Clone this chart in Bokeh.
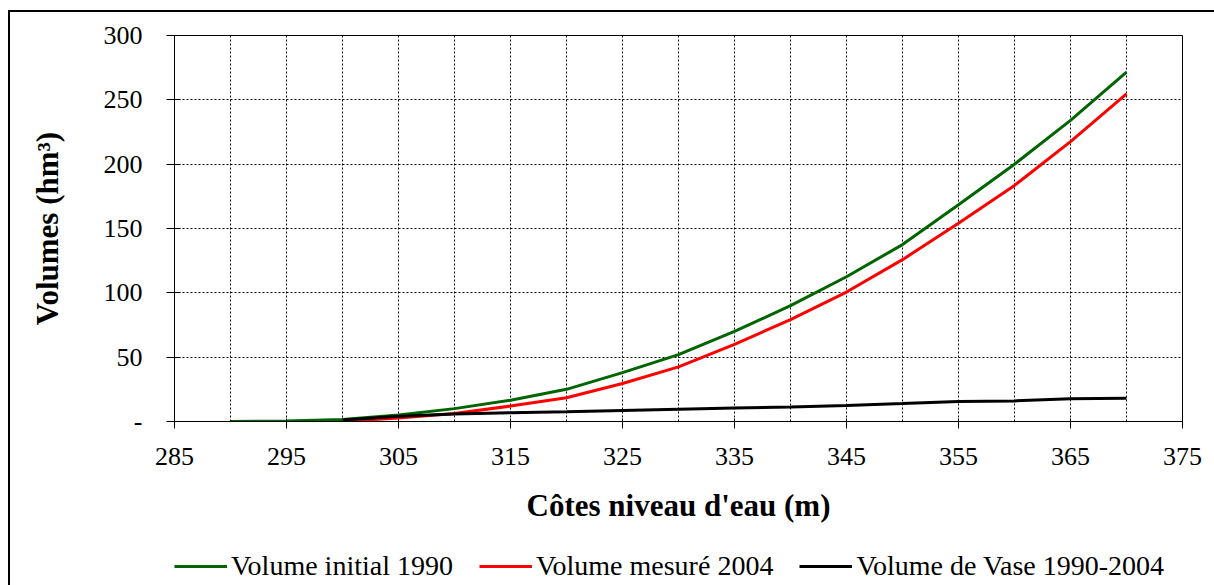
from bokeh.plotting import figure
from bokeh.models import (FixedTicker, Legend, LegendItem, Range1d)
from bokeh.layouts import column
from bokeh.embed import file_html
from bokeh.resources import INLINE

# ---- data ----
x_initial = [290, 295, 300, 305, 310, 315, 320, 325, 330, 335, 340, 345, 350, 355, 360, 365, 370]
vol_initial = [0, 0.4, 1.6, 5.0, 10.0, 16.5, 25.0, 38.0, 52.0, 70.0, 90.0, 112.5, 137.5, 168.5, 200.0, 234.0, 271.5]

x_mesure = [300, 305, 310, 315, 320, 325, 330, 335, 340, 345, 350, 355, 360, 365, 370]
vol_mesure = [0, 2.8, 6.2, 12.0, 18.5, 29.5, 42.5, 60.0, 79.2, 100.6, 125.8, 154.0, 183.5, 217.5, 254.7]

x_vase = [300, 305, 310, 315, 320, 325, 330, 335, 340, 345, 350, 355, 360, 365, 370]
vol_vase = [1.2, 4.0, 5.9, 6.8, 7.6, 8.6, 9.6, 10.4, 11.3, 12.4, 13.9, 15.6, 16.0, 17.6, 18.1]

x_ticks = [285, 295, 305, 315, 325, 335, 345, 355, 365, 375]
x_minor = [290, 300, 310, 320, 330, 340, 350, 360, 370]
y_ticks = [0, 50, 100, 150, 200, 250, 300]

labels = ["Volume initial 1990", "Volume mesuré 2004", "Volume de Vase 1990-2004"]
colors = ["#006400", "#ff0000", "#000000"]

FONT = "Liberation Serif"
LEG_H = 40

p = figure(width=1204, height=573 - LEG_H, output_backend="svg", toolbar_location=None,
           x_range=Range1d(285, 375), y_range=Range1d(0, 300),
           frame_width=1008, frame_height=386,
           min_border_left=164, min_border_right=32, min_border_top=23,
           min_border_bottom=164 - LEG_H)
p.background_fill_color = "white"
p.border_fill_color = "white"
p.outline_line_color = "black"
p.outline_line_width = 1

# axes
p.xaxis.ticker = FixedTicker(ticks=x_ticks, minor_ticks=x_minor)
p.yaxis.ticker = FixedTicker(ticks=y_ticks)
p.yaxis.major_label_overrides = {0: "-"}
for ax in (p.xaxis[0], p.yaxis[0]):
    ax.axis_line_color = "black"
    ax.axis_line_width = 1
    ax.major_tick_line_color = "black"
    ax.minor_tick_line_color = None
    ax.major_label_text_font = FONT
    ax.major_label_text_font_size = "26px"
    ax.major_label_text_color = "black"
    ax.axis_label_text_font = FONT
    ax.axis_label_text_font_size = "31px"
    ax.axis_label_text_font_style = "bold"
    ax.axis_label_text_color = "black"

p.xaxis.major_tick_in = 3
p.xaxis.major_tick_out = 7
p.yaxis.major_tick_in = 6
p.yaxis.major_tick_out = 8
p.xaxis.major_label_standoff = 19
p.yaxis.major_label_standoff = 24
p.xaxis.axis_label = "Côtes niveau d'eau (m)"
p.yaxis.axis_label = "Volumes (hm³)"
p.xaxis.axis_label_standoff = 20
p.yaxis.axis_label_standoff = 36

# grid
p.xgrid.ticker = FixedTicker(ticks=x_ticks, minor_ticks=x_minor)
p.xgrid.grid_line_color = "black"
p.xgrid.grid_line_dash = "2 2"
p.xgrid.grid_line_width = 1
p.xgrid.minor_grid_line_color = "black"
p.xgrid.minor_grid_line_dash = "2 2"
p.xgrid.minor_grid_line_width = 1
p.ygrid.grid_line_color = "black"
p.ygrid.grid_line_dash = "2 2"
p.ygrid.grid_line_width = 1

# lines
series = [(x_initial, vol_initial), (x_mesure, vol_mesure), (x_vase, vol_vase)]
for (xs, ys), c in zip(series, colors):
    p.line(xs, ys, line_color=c, line_width=3)

# legend strip (separate canvas so the legend is not clipped by the plot frame);
# its renderers hold the same series but lie outside this strip's view
pl = figure(width=1204, height=LEG_H, output_backend="svg", toolbar_location=None,
            x_axis_type=None, y_axis_type=None,
            x_range=Range1d(0, 1), y_range=Range1d(-2, -1),
            min_border=0)
pl.outline_line_color = None
pl.background_fill_color = "white"
pl.border_fill_color = "white"
pl.xgrid.visible = False
pl.ygrid.visible = False
leg_renderers = [pl.line(xs, ys, line_color=c, line_width=3) for (xs, ys), c in zip(series, colors)]
legend = Legend(items=[LegendItem(label=lab, renderers=[r]) for lab, r in zip(labels, leg_renderers)],
                orientation="horizontal", location=(0, 3),
                padding=0, margin=0, spacing=26, label_standoff=4,
                glyph_width=53, glyph_height=20, label_height=20,
                label_text_font=FONT, label_text_font_size="28px",
                label_text_color="black",
                background_fill_alpha=0, border_line_color=None)
pl.add_layout(legend, "center")

layout = column(p, pl, spacing=0,
                styles={"border-top": "2px solid black", "border-left": "2px solid black",
                        "margin-left": "8px", "margin-top": "10px"})

open("out.html", "w").write(file_html(layout, INLINE))
